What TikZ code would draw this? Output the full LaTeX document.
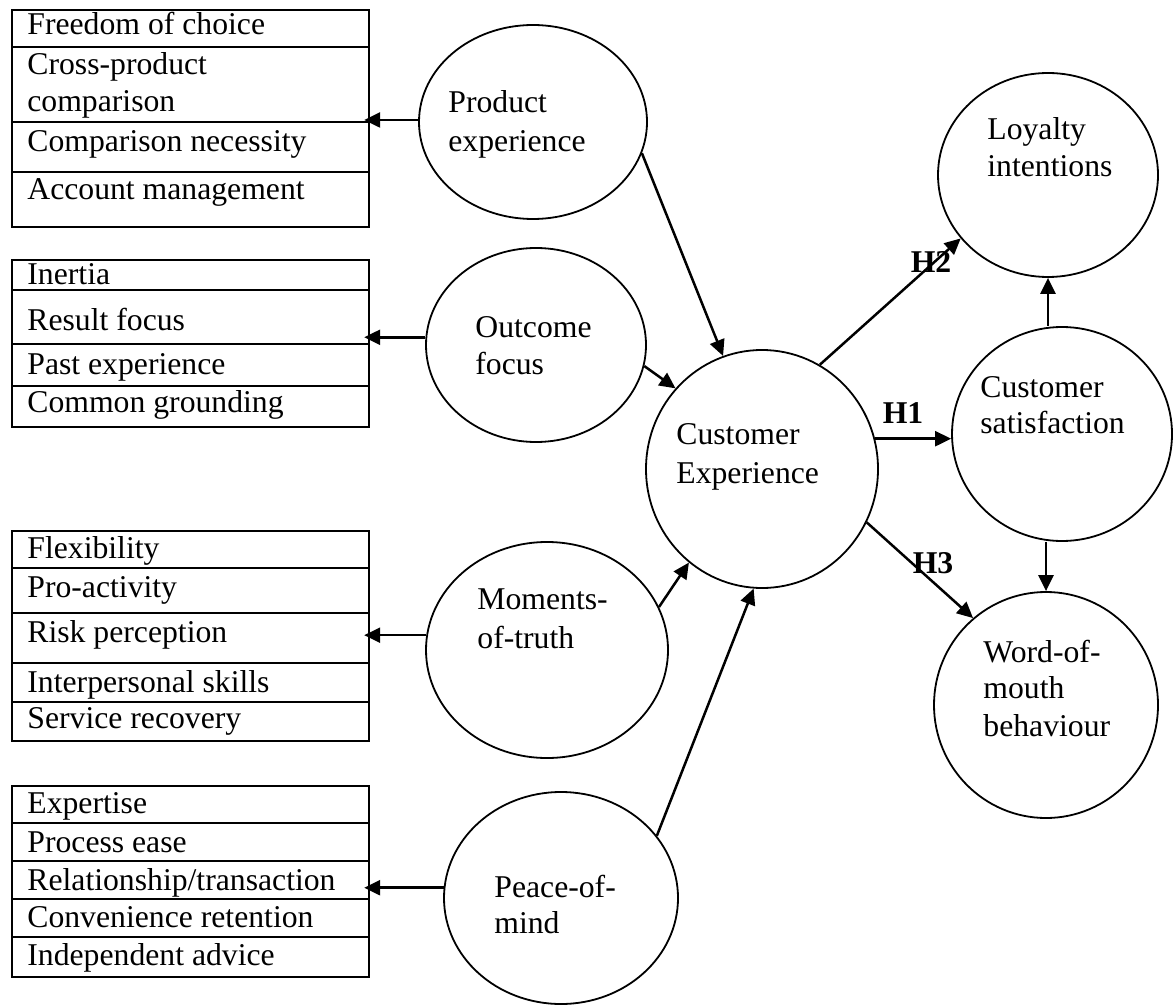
\documentclass[tikz,border=0pt]{standalone}
\usepackage{fontspec}
\setmainfont{Liberation Serif}
\usetikzlibrary{shapes.geometric,arrows.meta,calc}
\newcommand\mainsz{\fontsize{15.85pt}{18.5pt}\selectfont}
\begin{document}
\begin{tikzpicture}[x=0.5pt,y=-0.5pt,
  bubble/.style={draw,ellipse,line width=0.9pt,inner sep=0pt},
  itembox/.style={draw,rectangle,line width=1.1pt,inner sep=0pt,anchor=north west},
  divider/.style={line width=1.1pt},
  txt/.style={anchor=base west,inner sep=0pt,font=\mainsz},
  hyp/.style={anchor=base,inner sep=0pt,font=\mainsz\bfseries},
  conn/.style={line width=1.25pt,-{Triangle[length=8pt,width=7.5pt]}},
  toitems/.style={conn,shorten >=-3pt}]
\useasboundingbox (0,0) rectangle (1176,1005);

% ---------- item boxes ----------
\node[itembox,minimum width=178.5pt,minimum height=108.5pt] (box1) at (11,9) {};
\draw[divider] (11,47) -- (368,47);
\draw[divider] (11,122) -- (368,122);
\draw[divider] (11,172) -- (368,172);
\node[txt] (b1a) at (27,35) {Freedom of choice};
\node[txt] (b1b) at (27,75) {Cross-product};
\node[txt] (b1c) at (27,112) {comparison};
\node[txt] (b1d) at (27,152) {Comparison necessity};
\node[txt] (b1e) at (27,200) {Account management};

\node[itembox,minimum width=178.5pt,minimum height=83.5pt] (box2) at (11,259) {};
\draw[divider] (11,290) -- (368,290);
\draw[divider] (11,344) -- (368,344);
\draw[divider] (11,386) -- (368,386);
\node[txt] (b2a) at (27,285) {Inertia};
\node[txt] (b2b) at (27,330) {Result focus};
\node[txt] (b2c) at (27,374) {Past experience};
\node[txt] (b2d) at (27,412) {Common grounding};

\node[itembox,minimum width=178.5pt,minimum height=105pt] (box3) at (11,530) {};
\draw[divider] (11,568) -- (368,568);
\draw[divider] (11,613) -- (368,613);
\draw[divider] (11,663) -- (368,663);
\draw[divider] (11,702) -- (368,702);
\node[txt] (b3a) at (27,558) {Flexibility};
\node[txt] (b3b) at (27,597) {Pro-activity};
\node[txt] (b3c) at (27,642) {Risk perception};
\node[txt] (b3d) at (27,692) {Interpersonal skills};
\node[txt] (b3e) at (27,728) {Service recovery};

\node[itembox,minimum width=178.5pt,minimum height=95.5pt] (box4) at (11,785) {};
\draw[divider] (11,823) -- (368,823);
\draw[divider] (11,861) -- (368,861);
\draw[divider] (11,899) -- (368,899);
\draw[divider] (11,937) -- (368,937);
\node[txt] (b4a) at (27,813) {Expertise};
\node[txt] (b4b) at (27,852) {Process ease};
\node[txt] (b4c) at (27,890) {Relationship/transaction};
\node[txt] (b4d) at (27,927) {Convenience retention};
\node[txt] (b4e) at (27,965) {Independent advice};

% ---------- bubbles ----------
\node[bubble,minimum width=114pt,minimum height=97pt] (pe) at (533,122) {};
\node[txt] (pe1) at (448,113) {Product};
\node[txt] (pe2) at (448,152) {experience};

\node[bubble,minimum width=110pt,minimum height=97pt] (of) at (536,345) {};
\node[txt] (of1) at (475,337) {Outcome};
\node[txt] (of2) at (475,374) {focus};

\node[bubble,minimum width=121pt,minimum height=108pt] (mt) at (547,650) {};
\node[txt] (mt1) at (477,609) {Moments-};
\node[txt] (mt2) at (477,648) {of-truth};

\node[bubble,minimum width=117pt,minimum height=106pt] (pm) at (561,898) {};
\node[txt] (pm1) at (494,897) {Peace-of-};
\node[txt] (pm2) at (494,933) {mind};

\node[bubble,minimum width=116pt,minimum height=119pt] (ce) at (762,469) {};
\node[txt] (ce1) at (676,444) {Customer};
\node[txt] (ce2) at (676,483) {Experience};

\node[bubble,minimum width=110pt,minimum height=102pt] (loy) at (1048,175) {};
\node[txt] (loy1) at (987,140) {Loyalty};
\node[txt] (loy2) at (987,177) {intentions};

\node[bubble,minimum width=110pt,minimum height=107pt] (sat) at (1062,434) {};
\node[txt] (sat1) at (980,397) {Customer};
\node[txt] (sat2) at (980,433) {satisfaction};

\node[bubble,minimum width=112pt,minimum height=113pt] (wom) at (1046,705) {};
\node[txt] (wom1) at (983,662) {Word-of-};
\node[txt] (wom2) at (983,698) {mouth};
\node[txt] (wom3) at (983,736) {behaviour};

% ---------- connectors ----------
\draw[toitems] (pe.179) -- (pe.179 -| box1.east);
\draw[toitems] (of.176) -- (of.176 -| box2.east);
\draw[toitems] (mt.173) -- (mt.173 -| box3.east);
\draw[toitems] (pm.175) -- (pm.175 -| box4.east);

\draw[conn] (pe.-16) -- (ce.109);
\draw[conn] (of.-11) -- (ce.137);
\draw[conn] (mt.21) -- (ce.232);
\draw[conn] (pm.33) -- (ce.266);

\draw[conn] (ce.61) -- (loy.216);
\draw[conn] (ce.15) -- (ce.15 -| sat.west);
\draw[conn] (ce.-27) -- (wom.130);
\draw[conn] (loy.south |- sat.north) -- (loy.south);
\draw[conn] (wom.north |- sat.south) -- (wom.north);

% ---------- hypothesis labels ----------
\node[hyp] (h2) at (931,273) {H2};
\node[hyp] (h1) at (903,423) {H1};
\node[hyp] (h3) at (933,573) {H3};
\end{tikzpicture}
\end{document}
